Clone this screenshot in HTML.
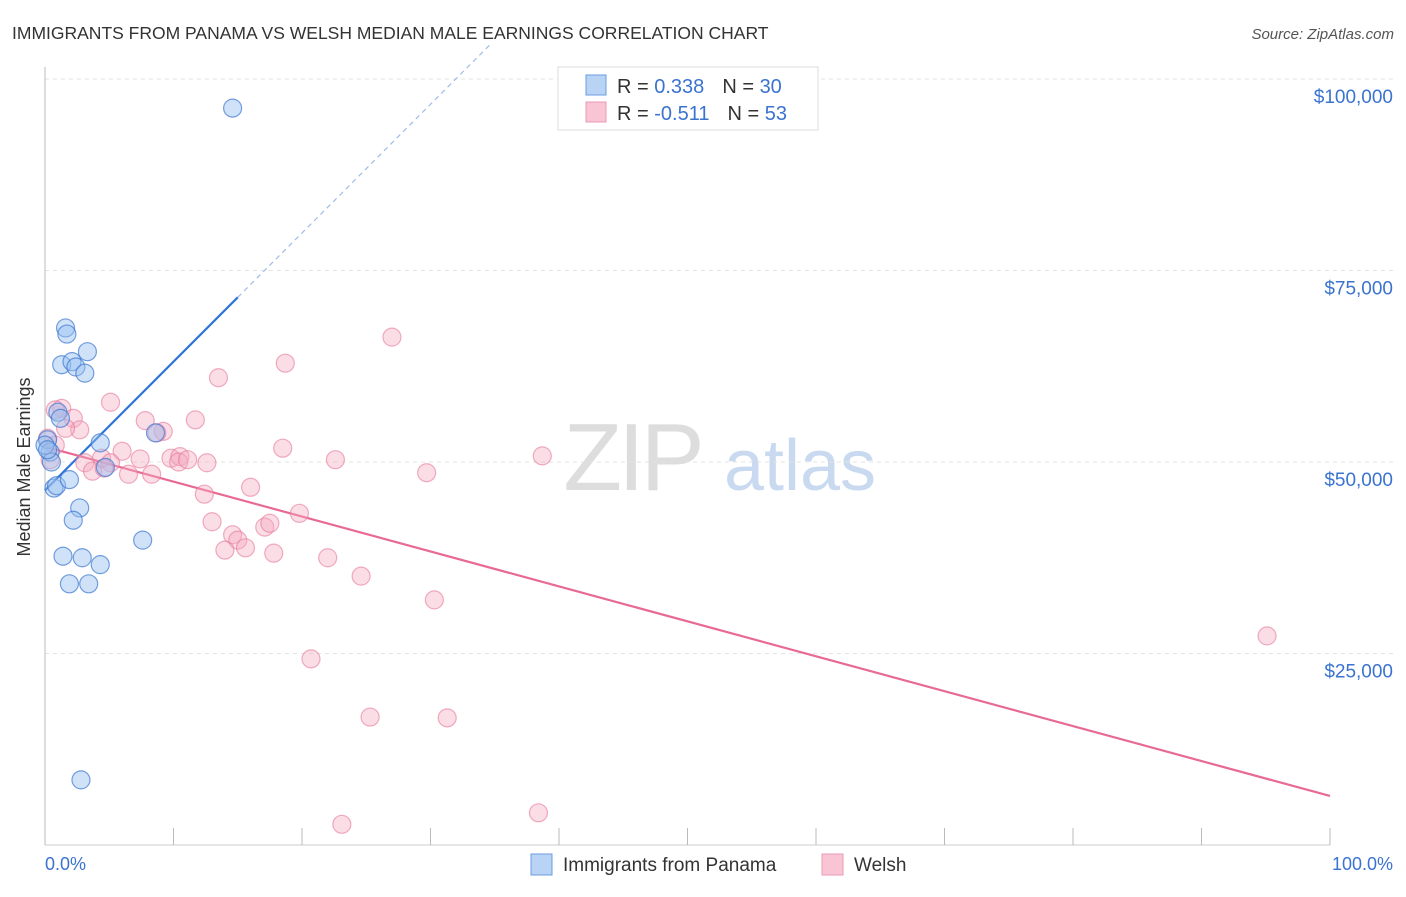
<!DOCTYPE html>
<html><head><meta charset="utf-8"><style>
body{margin:0;background:#fff;font-family:"Liberation Sans",sans-serif;}
svg text{font-family:"Liberation Sans",sans-serif;}
</style></head><body>
<svg id="chart" width="1406" height="892" viewBox="0 0 1406 892" xmlns="http://www.w3.org/2000/svg">
<text x="12" y="39" font-size="17.5" fill="#333">IMMIGRANTS FROM PANAMA VS WELSH MEDIAN MALE EARNINGS CORRELATION CHART</text>
<text x="1394" y="39" font-size="15" fill="#555" font-style="italic" text-anchor="end">Source: ZipAtlas.com</text>
<g>
<text x="632" y="490" font-size="96" fill="#ddd" font-family="Liberation Serif" text-anchor="middle" letter-spacing="-4">ZIP</text>
<text x="800" y="490" font-size="72" fill="#c9daf0" text-anchor="middle">atlas</text>
</g>
<g id="grid"></g>
<line x1="45" y1="67" x2="45" y2="845" stroke="#bbb"/>
<line x1="45" y1="845" x2="1330" y2="845" stroke="#ccc"/>
<g id="xticks"></g>
<text x="18" y="455" font-size="18" fill="#333" text-anchor="middle" transform="rotate(-90 30 455)">Median Male Earnings</text>
<text x="45" y="870" font-size="18" fill="#3a73d0">0.0%</text>
<text x="1393" y="870" font-size="18" fill="#3a73d0" text-anchor="end">100.0%</text>
<g id="lines"></g>
<g id="points"></g>
<g>
<rect x="558" y="67" width="260" height="63" fill="#fff" stroke="#ddd"/>
<rect x="586" y="75" width="20" height="20" fill="#b9d3f5" stroke="#6a9be0"/>
<rect x="586" y="102" width="20" height="20" fill="#f9c5d4" stroke="#eb9ab3"/>
<text x="617" y="93" font-size="20" fill="#333">R = <tspan fill="#3a73d0">0.338</tspan><tspan dx="18">N = </tspan><tspan fill="#3a73d0">30</tspan></text>
<text x="617" y="120" font-size="20" fill="#333">R = <tspan fill="#3a73d0">-0.511</tspan><tspan dx="18">N = </tspan><tspan fill="#3a73d0">53</tspan></text>
</g>
<g>
<rect x="531" y="854" width="21" height="21" fill="#b9d3f5" stroke="#6a9be0"/>
<text x="563" y="871" font-size="19" fill="#333">Immigrants from Panama</text>
<rect x="822" y="854" width="21" height="21" fill="#f9c5d4" stroke="#eb9ab3"/>
<text x="854" y="871" font-size="19" fill="#333">Welsh</text>
</g>
</svg>
<script>
const yTicks=[25000,50000,75000,100000];
const yTickLabels=["$25,000","$50,000","$75,000","$100,000"];
const xTickValues=[0,10,20,30,40,50,60,70,80,90,100];
const panamaX=[14.6,1.6,1.7,3.3,1.3,2.1,2.4,3.1,1.0,1.2,4.3,8.6,4.7,0.2,0.4,0.5,0.7,0.9,1.9,2.7,2.2,7.6,1.4,2.9,4.3,1.9,3.4,2.8,0.0,0.2];
const panamaY=[96200,67500,66700,64400,62700,63100,62400,61600,56500,55700,52500,53800,49300,52900,51300,50000,46600,46900,47700,44000,42400,39800,37700,37500,36600,34100,34100,8500,52200,51600];
const welshX=[27.0,18.7,13.5,5.1,1.3,0.8,2.2,7.8,11.7,2.7,1.6,9.2,8.7,0.2,0.8,6.0,4.4,3.1,7.4,5.1,9.8,10.5,10.4,11.1,12.6,18.5,22.6,38.7,3.7,6.5,8.3,4.6,12.4,16.0,29.7,19.8,13.0,17.1,17.5,14.6,15.0,14.0,15.6,17.8,22.0,24.6,30.3,95.1,20.7,25.3,31.3,23.1,38.4,0.4];
const welshY=[66300,62900,61000,57800,57000,56800,55700,55400,55500,54200,54400,54000,53800,53100,52200,51400,50500,49900,50400,49900,50500,50700,50000,50300,49900,51800,50300,50800,48800,48400,48400,49200,45800,46700,48600,43300,42200,41500,42000,40500,39800,38500,38800,38100,37500,35100,32000,27300,24300,16700,16600,2700,4200,50300];
const panamaFit=[46300,1680];
const welshFit=[52000,-456];
const NS="http://www.w3.org/2000/svg";
const sx=v=>45+v*12.85;
const sy=v=>845-v/25000*191.5;
function mk(tag,attrs,parent){const e=document.createElementNS(NS,tag);for(const k in attrs)e.setAttribute(k,attrs[k]);parent.appendChild(e);return e;}
const grid=document.getElementById('grid');
yTicks.forEach((t,i)=>{
 const l=mk('line',{x1:45,x2:1393,y1:sy(t),y2:sy(t),stroke:'#e3e3e3','stroke-dasharray':'4 4'},grid);
 
 
 const tx=mk('text',{x:1393,y:sy(t)+24,'font-size':19,fill:'#3a73d0','text-anchor':'end'},grid);
 tx.textContent=yTickLabels[i];
 
 
});
const xt=document.getElementById('xticks');
xTickValues.forEach(v=>{
 const l=mk('line',{x1:sx(v),x2:sx(v),y1:828,y2:845,stroke:'#bbb'},xt);
 
 
});
const lines=document.getElementById('lines');
const pf=x=>panamaFit[0]+panamaFit[1]*x;
const wf=x=>welshFit[0]+welshFit[1]*x;
let l1=mk('line',{x1:sx(0),y1:sy(pf(0)),x2:sx(15),y2:sy(pf(15)),stroke:'#2f74d8','stroke-width':2.2},lines);


const xEnd=(100000*1.045-panamaFit[0])/panamaFit[1];
let l2=mk('line',{x1:sx(15),y1:sy(pf(15)),x2:sx(xEnd),y2:sy(pf(xEnd)),stroke:'#9dbde8','stroke-width':1.2,'stroke-dasharray':'5 4'},lines);


let l3=mk('line',{x1:sx(0),y1:sy(wf(0)),x2:sx(100),y2:sy(wf(100)),stroke:'#e86a93','stroke-width':2.2},lines);


const pts=document.getElementById('points');
welshX.forEach((x,i)=>{
 const c=mk('circle',{cx:sx(x),cy:sy(welshY[i]),r:9,fill:'rgba(244,170,192,0.4)',stroke:'rgba(230,120,155,0.6)','stroke-width':1.2},pts);
 
 
});
panamaX.forEach((x,i)=>{
 const c=mk('circle',{cx:sx(x),cy:sy(panamaY[i]),r:9,fill:'rgba(150,190,240,0.45)',stroke:'rgba(60,120,210,0.7)','stroke-width':1.2},pts);
 
 
});
</script>
</body></html>
